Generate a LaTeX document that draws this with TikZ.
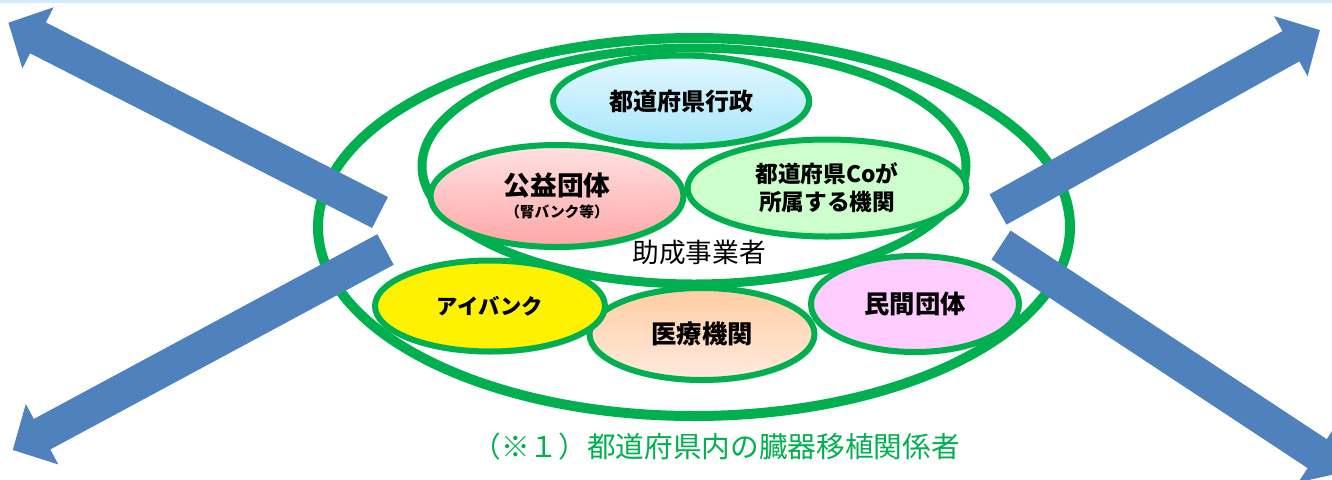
\documentclass[tikz,border=0pt]{standalone}
\usepackage{fontspec}
\setmainfont{Noto Sans CJK JP}
\usetikzlibrary{shapes.geometric,arrows.meta,shadows}
\definecolor{grn}{HTML}{00B050}
\definecolor{arrowblue}{HTML}{4F81BD}
\definecolor{topline}{HTML}{D3EBFB}
\definecolor{gyoutop}{HTML}{E4F8FF}
\definecolor{gyoubot}{HTML}{A6E6FA}
\definecolor{koueitop}{HTML}{FFE2E2}
\definecolor{koueibot}{HTML}{FFA6A6}
\definecolor{cogreen}{HTML}{CCFFCC}
\definecolor{iryotop}{HTML}{FFCDA3}
\definecolor{iryobot}{HTML}{FFEADF}
\definecolor{minkan}{HTML}{FFCCFF}
\definecolor{edgeblue}{HTML}{5B7FC7}
\tikzset{
  ring/.style={ellipse, draw=grn, inner sep=0pt},
  org/.style={ellipse, draw=grn, line width=4.5pt, inner sep=0pt, align=center,
    drop shadow={opacity=0.22, shadow xshift=1.5pt, shadow yshift=-2.5pt}},
  bigarrow/.style={draw=arrowblue, line width=26pt, -{Triangle[length=25pt,width=50pt]}},
}
\begin{document}
\begin{tikzpicture}[x=0.75pt,y=-0.75pt]
\useasboundingbox (0,0) rectangle (1332,479);
\clip (0,0) rectangle (1332,479);
\fill[topline] (0,0) rectangle (1332,2.5);
% rings
\node[ring, line width=7.5pt, minimum width=564pt, minimum height=283.5pt] (outer) at (694,227) {};
\node[ring, line width=6.75pt, minimum width=408pt, minimum height=177pt] (inner) at (694,166) {};
% lower organisations
\node[org, top color=iryotop, bottom color=iryobot, minimum width=168.75pt, minimum height=69pt,
  font=\bfseries\fontsize{19pt}{23pt}\selectfont] (iryo) at (702,334) {医療機関};
\node[org, fill=yellow, minimum width=172.5pt, minimum height=68.25pt,
  font=\bfseries\fontsize{16pt}{20pt}\selectfont] (eye) at (490,306) {アイバンク};
\node[org, fill=minkan, minimum width=156pt, minimum height=72pt,
  font=\bfseries\fontsize{19pt}{23pt}\selectfont] (minkan) at (915,304) {民間団体};
% upper organisations
\node[org, top color=koueitop, bottom color=koueibot, minimum width=189.75pt, minimum height=76.5pt,
  font=\bfseries\fontsize{20pt}{20pt}\selectfont] (kouei) at (557,196)
  {公益団体\\[-4pt]{\fontsize{11pt}{12pt}\selectfont （腎バンク等）}};
\node[org, fill=cogreen, minimum width=209.25pt, minimum height=72.75pt,
  font=\bfseries\fontsize{17pt}{21pt}\selectfont] (co) at (827,188)
  {都道府県Coが\\所属する機関};
\node[ellipse, draw=edgeblue, line width=1pt, minimum width=193pt, minimum height=69pt] (gyoseiedge) at (683,101.5) {};
\node[org, top color=gyoutop, bottom color=gyoubot, minimum width=192pt, minimum height=68.25pt,
  font=\bfseries\fontsize{18pt}{22pt}\selectfont] (gyosei) at (681,101) {都道府県行政};
% labels
\node[font=\fontsize{20pt}{24pt}\selectfont] (josei) at (699,252) {助成事業者};
\node[font=\fontsize{21.5pt}{25pt}\selectfont, text=grn] (note) at (716,447) {（※１）都道府県内の臓器移植関係者};
% arrows
\coordinate (t1) at (380,212.5); \coordinate (h1) at (8.3,22.7);
\coordinate (t2) at (998,209.5); \coordinate (h2) at (1320,30);
\coordinate (t3) at (385.5,249.5); \coordinate (h3) at (12.7,450);
\coordinate (t4) at (1001,245); \coordinate (h4) at (1345,472);
\draw[bigarrow] (t1) -- (h1);
\draw[bigarrow] (t2) -- (h2);
\draw[bigarrow] (t3) -- (h3);
\draw[bigarrow] (t4) -- (h4);
\end{tikzpicture}
\end{document}
